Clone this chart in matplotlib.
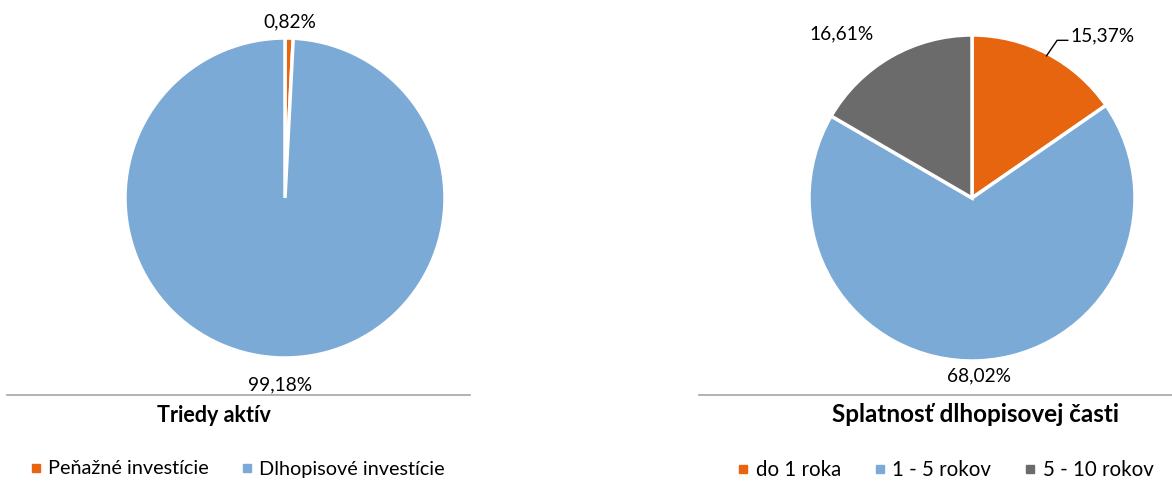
import matplotlib
matplotlib.use("Agg")
import matplotlib.pyplot as plt
from matplotlib.lines import Line2D
import numpy as np

plt.rcParams['font.family'] = ['Lato', 'DejaVu Sans']

# data
triedy_labels = ['Peňažné investície', 'Dlhopisové investície']
triedy_values = [0.82, 99.18]
triedy_text = ['0,82%', '99,18%']

splat_labels = ['do 1 roka', '1 - 5 rokov', '5 - 10 rokov']
splat_values = [15.37, 68.02, 16.61]
splat_text = ['15,37%', '68,02%', '16,61%']

orange = '#E8650F'
blue = '#7BAAD7'
gray = '#6B6B6B'

W, H = 1172, 482
fig = plt.figure(figsize=(W / 100, H / 100), dpi=100)
lab_fs = 13.8


def pie_axes(cx, cy, r):
    return fig.add_axes([(cx - r) / W, (H - cy - r) / H, 2 * r / W, 2 * r / H])


def mid_angle(values, i):
    start = 90 - sum(values[:i]) / sum(values) * 360
    return np.deg2rad(start - values[i] / sum(values) * 180)


# left pie
ax1 = pie_axes(285, 198, 160)
w1, _ = ax1.pie(triedy_values, colors=[orange, blue], startangle=90, counterclock=False,
                radius=1, wedgeprops=dict(edgecolor='white', linewidth=2.5))
ax1.set_xlim(-1, 1)
ax1.set_ylim(-1, 1)
ax1.set_aspect('equal')
for i, (t, rr) in enumerate(zip(triedy_text, [1.1, 1.17])):
    a = mid_angle(triedy_values, i)
    ax1.text(rr * np.cos(a), rr * np.sin(a), t, ha='center', va='center', fontsize=lab_fs)

# right pie
ax2 = pie_axes(972, 198, 163)
w2, _ = ax2.pie(splat_values, colors=[orange, blue, gray], startangle=90, counterclock=False,
                radius=1, wedgeprops=dict(edgecolor='white', linewidth=2.5))
ax2.set_xlim(-1, 1)
ax2.set_ylim(-1, 1)
ax2.set_aspect('equal')

# leader line for the first slice
a = mid_angle(splat_values, 0)
p0 = np.array([0.985 * np.cos(a), 0.985 * np.sin(a)])
p1 = p0 + np.array([0.065, 0.095])
p2 = p1 + np.array([0.065, 0.0])
ax2.plot([p0[0], p1[0], p2[0]], [p0[1], p1[1], p2[1]], color='black', lw=1, clip_on=False)
ax2.text(p2[0] + 0.015, p2[1] + 0.03, splat_text[0], ha='left', va='center', fontsize=lab_fs)

a = mid_angle(splat_values, 1)
ax2.text(1.09 * np.cos(a), 1.09 * np.sin(a), splat_text[1], ha='center', va='center', fontsize=lab_fs)
a = mid_angle(splat_values, 2)
ax2.text(1.29 * np.cos(a) - 0.16, 1.29 * np.sin(a) - 0.11, splat_text[2], ha='center', va='center',
         fontsize=lab_fs)

# separator lines and titles
fig.add_artist(Line2D([7 / W, 470 / W], [1 - 395 / H] * 2, color='#A6A6A6', lw=1.2))
fig.add_artist(Line2D([699 / W, 1.0], [1 - 395 / H] * 2, color='#A6A6A6', lw=1.2))
fig.text(214 / W, 1 - 415 / H, 'Triedy aktív', ha='center', va='center',
         fontsize=15.5, fontweight='bold')
fig.text(975 / W, 1 - 415 / H, 'Splatnosť dlhopisovej časti', ha='center', va='center',
         fontsize=17.5, fontweight='bold')


def square(c):
    return Line2D([], [], marker='s', color=c, linestyle='none', markersize=6)


leg_kw = dict(loc='center left', frameon=False, borderpad=0, borderaxespad=0,
              handlelength=0.6, handletextpad=0.3)
fig.legend([square(orange), square(blue)], triedy_labels, ncol=2, fontsize=14.3,
           columnspacing=1.65, bbox_to_anchor=(30 / W, 1 - 469 / H), **leg_kw)
fig.legend([square(orange), square(blue), square(gray)], splat_labels, ncol=3, fontsize=14.8,
           columnspacing=1.6, bbox_to_anchor=(737 / W, 1 - 470 / H), **leg_kw)

fig.savefig('out.png', dpi=100)
